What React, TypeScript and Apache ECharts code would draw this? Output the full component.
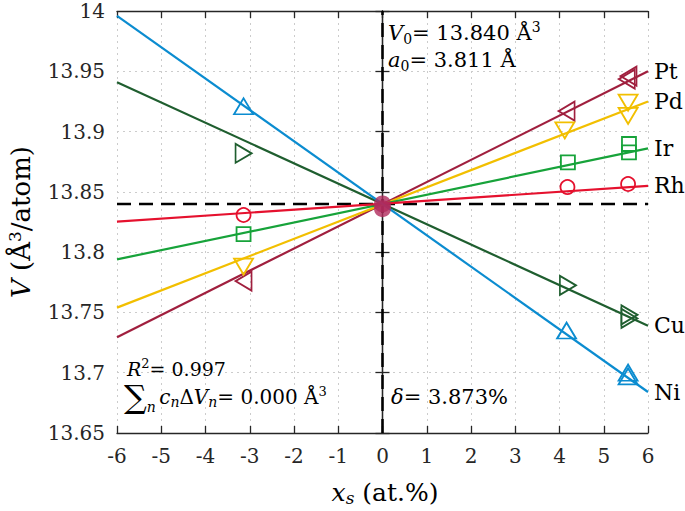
import React, { useEffect, useRef } from "react";
import * as echarts from "echarts";

// ---- data ----
const xRange = [-6, 6];
const V0 = 13.84;
const elements = ["Pt", "Pd", "Ir", "Rh", "Cu", "Ni"];
const colors = ["#a01f3e", "#f2bf00", "#17a33a", "#e5112e", "#1f5e2f", "#0b8cd0"];
// fitted line values at x = -6 and x = 6
const ptLine = [13.7295, 13.95];
const pdLine = [13.754, 13.925];
const irLine = [13.794, 13.886];
const rhLine = [13.8253, 13.855];
const cuLine = [13.941, 13.739];
const niLine = [13.996, 13.684];
// computed points
const ptX = [-3.14, 4.16, 5.52, 5.56];
const ptY = [13.776, 13.917, 13.9435, 13.946];
const pdX = [-3.14, 4.12, 5.55, 5.55];
const pdY = [13.788, 13.901, 13.924, 13.913];
const irX = [-3.14, 4.19, 5.57, 5.57];
const irY = [13.815, 13.8745, 13.8897, 13.8828];
const rhX = [-3.14, 4.18, 5.55];
const rhY = [13.8308, 13.854, 13.8565];
const cuX = [-3.14, 4.19, 5.58, 5.58];
const cuY = [13.882, 13.7725, 13.748, 13.745];
const niX = [-3.14, 4.16, 5.55, 5.55];
const niY = [13.921, 13.735, 13.7, 13.697];
const centerX = [0, 0];
const centerY = [13.84, 13.836];

const lines = [ptLine, pdLine, irLine, rhLine, cuLine, niLine];
const ptsX = [ptX, pdX, irX, rhX, cuX, niX];
const ptsY = [ptY, pdY, irY, rhY, cuY, niY];
const symbols = ["triangle", "triangle", "rect", "circle", "triangle", "triangle"];
const rotations = [90, 180, 0, 0, -90, 0];
const sizes: any[] = [[19, 16], [19, 16], 14, 14, [19, 16], [19, 16]];

const FONT = "DejaVu Serif";
const AX = "#262626";

export default function App() {
  const ref = useRef<HTMLDivElement>(null);
  useEffect(() => {
    const chart = echarts.init(ref.current!, null, { renderer: "svg" });
    const series: any[] = [];
    series.push({
      type: "line",
      data: [[0, 13.65], [0, 14]],
      showSymbol: false,
      lineStyle: { color: "#000", width: 2.5, type: [14, 8] },
      z: 1,
      silent: true,
    });
    series.push({
      type: "line",
      data: [[xRange[0], V0], [xRange[1], V0]],
      showSymbol: false,
      lineStyle: { color: "#000", width: 2.5, type: [14, 8] },
      z: 1,
      silent: true,
    });
    elements.forEach((el, i) => {
      series.push({
        type: "line",
        name: el,
        data: [[xRange[0], lines[i][0]], [xRange[1], lines[i][1]]],
        showSymbol: false,
        lineStyle: { color: colors[i], width: 2.2 },
        endLabel: {
          show: true,
          formatter: el,
          color: "#000",
          fontFamily: FONT,
          fontSize: 22,
          distance: 6,
        },
        z: 3,
      });
      series.push({
        type: "scatter",
        data: ptsX[i].map((x, k) => [x, ptsY[i][k]]),
        symbol: symbols[i],
        symbolRotate: rotations[i],
        symbolSize: sizes[i],
        itemStyle: { color: "transparent", borderColor: colors[i], borderWidth: 1.8, opacity: 1 },
        z: 4,
      });
    });
    series.push({
      type: "scatter",
      data: centerX.map((x, k) => [x, centerY[k]]),
      symbol: "circle",
      symbolSize: 17,
      itemStyle: { color: "#b02a5c" },
      z: 5,
    });

    const axCommon = {
      axisLine: { show: true, lineStyle: { color: AX, width: 1.3 } },
      axisTick: { show: true, inside: true, length: 7, lineStyle: { color: AX, width: 1.3 } },
    };
    const subStyle = { fontFamily: FONT, fontSize: 14, padding: [12, 0, 0, 0], color: "#000" };
    const supStyle = { fontFamily: FONT, fontSize: 14, padding: [0, 0, 12, 0], color: "#000" };
    const nStyle = { fontFamily: FONT, fontSize: 21, color: "#000" };
    const iStyle = { fontFamily: FONT, fontSize: 21, fontStyle: "italic", color: "#000" };

    chart.setOption({
      animation: false,
      grid: { left: 117, right: 37, top: 11, bottom: 78 },
      xAxis: [
        {
          type: "value",
          min: -6,
          max: 6,
          interval: 1,
          position: "bottom",
          ...axCommon,
          axisLabel: { fontFamily: FONT, fontSize: 20, color: AX, margin: 13 },
          splitLine: { show: true, lineStyle: { color: "#cccccc", type: [2, 4], width: 1 } },
        },
        {
          type: "value",
          min: -6,
          max: 6,
          interval: 1,
          position: "top",
          ...axCommon,
          axisLabel: { show: false },
          splitLine: { show: false },
        },
      ],
      yAxis: [
        {
          type: "value",
          min: 13.65,
          max: 14,
          interval: 0.05,
          position: "left",
          ...axCommon,
          axisLabel: {
            fontFamily: FONT,
            fontSize: 20,
            color: AX,
            margin: 12,
            formatter: (v: number) => String(+v.toFixed(2)),
          },
          splitLine: { show: true, lineStyle: { color: "#cccccc", type: [2, 4], width: 1 } },
        },
        {
          type: "value",
          min: 13.65,
          max: 14,
          interval: 0.05,
          position: "right",
          ...axCommon,
          axisLabel: { show: false },
          splitLine: { show: false },
        },
      ],
      series,
      graphic: [
        {
          type: "text",
          left: 388,
          top: 20,
          style: {
            text: "{i|V}{sub|0}{n|= 13.840 Å}{sup|3}",
            rich: { i: iStyle, sub: subStyle, n: nStyle, sup: supStyle },
          },
          z: 10,
        },
        {
          type: "text",
          left: 388,
          top: 49,
          style: {
            text: "{i|a}{sub|0}{n|= 3.811 Å}",
            rich: { i: iStyle, sub: subStyle, n: nStyle },
          },
          z: 10,
        },
        {
          type: "text",
          left: 127,
          top: 357,
          style: {
            text: "{i|R}{sup|2}{n|= 0.997}",
            rich: {
              i: { ...iStyle, fontSize: 19 },
              sup: { ...supStyle, fontSize: 13, padding: [0, 0, 10, 0] },
              n: { ...nStyle, fontSize: 19 },
            },
          },
          z: 10,
        },
        {
          type: "text",
          left: 124,
          top: 381,
          style: {
            text: "{sum|∑}{sub|n} {i|c}{sub2|n}{n|Δ}{i|V}{sub2|n}{n|= 0.000 Å}{sup|3}",
            rich: {
              sum: { fontFamily: FONT, fontSize: 32, color: "#000" },
              i: { ...iStyle, fontSize: 20 },
              sub: { ...subStyle, fontSize: 14, fontStyle: "italic", padding: [20, 0, 0, 0] },
              sub2: { ...subStyle, fontSize: 14, fontStyle: "italic", padding: [10, 0, 0, 0] },
              n: { ...nStyle, fontSize: 20 },
              sup: { ...supStyle, fontSize: 13 },
            },
          },
          z: 10,
        },
        {
          type: "text",
          left: 391,
          top: 386,
          style: {
            text: "{i|δ}{n|= 3.873%}",
            rich: { i: iStyle, n: nStyle },
          },
          z: 10,
        },
        {
          type: "text",
          x: 385,
          y: 492,
          style: {
            text: "{i|x}{sub|s}{n| (at.%)}",
            align: "center",
            verticalAlign: "middle",
            rich: {
              i: { ...iStyle, fontSize: 25 },
              sub: { ...subStyle, fontSize: 17, fontStyle: "italic" },
              n: { ...nStyle, fontSize: 25 },
            },
          },
        },
        {
          type: "text",
          x: 21,
          y: 222,
          rotation: Math.PI / 2,
          style: {
            text: "{i|V}{n| (Å}{sup|3}{n|/atom)}",
            align: "center",
            verticalAlign: "middle",
            rich: {
              i: { ...iStyle, fontSize: 26 },
              n: { ...nStyle, fontSize: 26 },
              sup: { ...supStyle, fontSize: 17 },
            },
          },
        },
      ],
    });
    return () => chart.dispose();
  }, []);
  return (
    <div
      ref={ref}
      style={{ position: "fixed", left: 0, top: 0, width: 685, height: 511, background: "#fff" }}
    />
  );
}
